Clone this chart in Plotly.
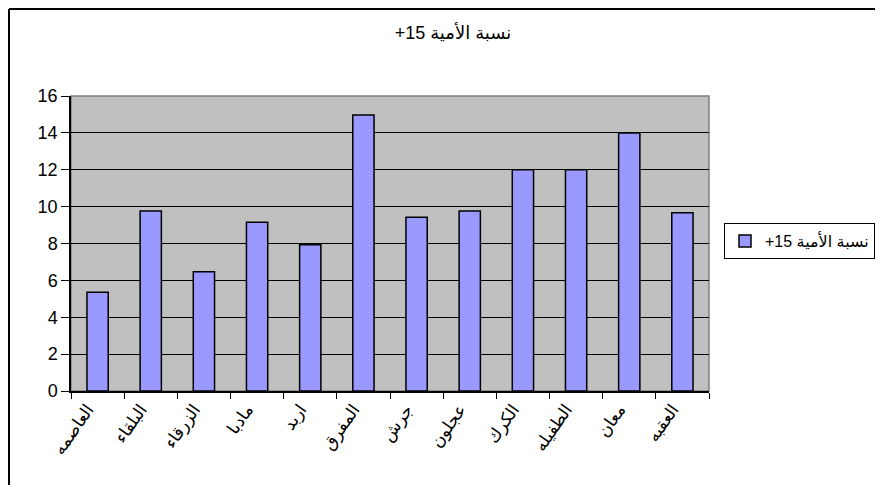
import plotly.graph_objs as go

series_name = 'نسبة الأمية 15+'
regions = ['العاصمه', 'البلقاء', 'الزرقاء', 'مادبا', 'اربد', 'المفرق',
           'جرش', 'عجلون', 'الكرك', 'الطفيله', 'معان', 'العقبه']
rates = [5.35, 9.76, 6.47, 9.15, 7.93, 14.97, 9.42, 9.76, 12.0, 12.0, 14.0, 9.67]

font_family = 'Liberation Sans, Arial, DejaVu Sans'


def rtl(s):
    # wrap in a right-to-left embedding so "+" lands on the left like in the original
    return '\u202b' + s + '\u202c'


fig = go.Figure()
fig.add_trace(go.Bar(
    x=regions,
    y=rates,
    name=rtl(series_name),
    width=0.4,
    marker=dict(color='#9999FF', line=dict(color='black', width=1.5)),
    showlegend=True
))

# the page body adds ~8px, so the figure is 8px smaller than the window
fig.update_layout(
    width=875,
    height=477,
    margin=dict(l=63, r=174, t=88, b=94),
    paper_bgcolor='white',
    plot_bgcolor='#C0C0C0',
    font=dict(family=font_family, size=16, color='black'),
    title=dict(
        text=rtl(series_name),
        font=dict(family=font_family, size=18, color='black'),
        x=0.5086, xanchor='center', xref='container',
        y=0.9476, yanchor='middle', yref='container'
    ),
    showlegend=True,
    legend=dict(
        xref='container', yref='container',
        x=0.8183, xanchor='left',
        y=0.5115, yanchor='middle',
        bordercolor='black', borderwidth=1,
        bgcolor='white',
        itemwidth=30,
        font=dict(family=font_family, size=16)
    ),
    xaxis=dict(
        type='category',
        tickangle=-55,
        ticks='outside',
        tickson='boundaries',
        ticklen=6,
        tickcolor='black',
        ticklabelshift=-10,
        showline=True,
        linecolor='black',
        linewidth=1.5,
        showgrid=False,
        tickfont=dict(size=17)
    ),
    yaxis=dict(
        range=[0, 16],
        dtick=2,
        ticks='outside',
        ticklen=8,
        tickcolor='black',
        showline=True,
        linecolor='black',
        linewidth=1.5,
        showgrid=True,
        gridcolor='black',
        gridwidth=1,
        zeroline=False,
        tickfont=dict(size=18)
    ),
    shapes=[
        dict(type='rect', xref='paper', yref='paper', x0=0, x1=1, y0=0, y1=1,
             line=dict(color='#808080', width=1.5), layer='below'),
        dict(type='line', xref='paper', yref='paper', x0=-0.0972, x1=1.5,
             y0=1.2949, y1=1.2949, line=dict(color='black', width=2)),
        dict(type='line', xref='paper', yref='paper', x0=-0.0972, x1=-0.0972,
             y0=1.2949, y1=-0.5, line=dict(color='black', width=2)),
    ]
)

fig.write_html('out.html')
